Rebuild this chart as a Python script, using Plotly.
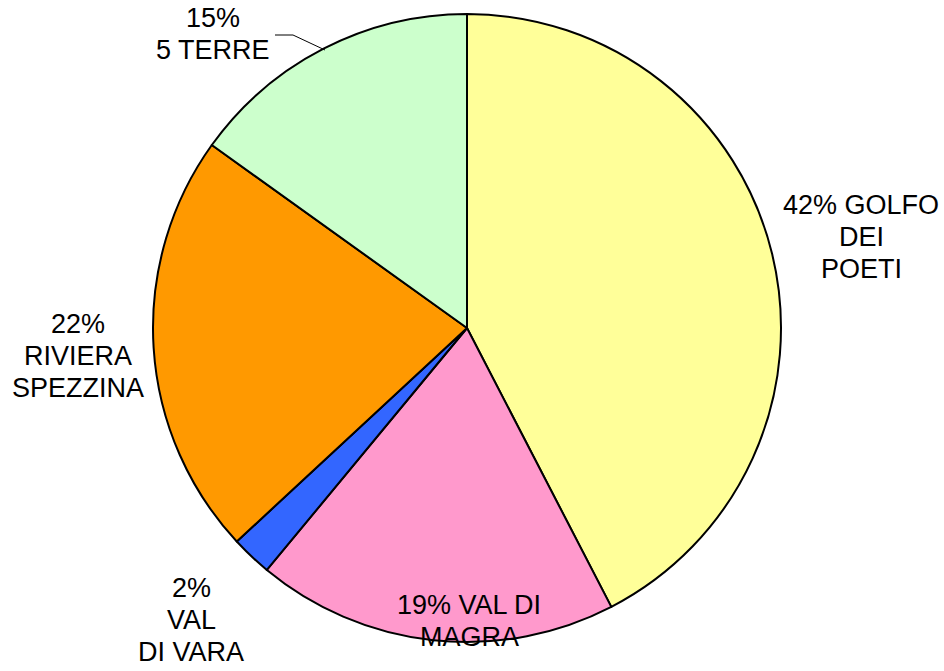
import plotly.graph_objects as go

# ---- data ----
names = ["GOLFO DEI POETI", "VAL DI MAGRA", "VAL DI VARA", "RIVIERA SPEZZINA", "5 TERRE"]
values = [42.4, 18.6, 2.1, 21.8, 15.1]
label_texts = ["42% GOLFO<br>DEI<br>POETI", "19% VAL DI<br>MAGRA", "2%<br>VAL<br>DI VARA",
               "22%<br>RIVIERA<br>SPEZZINA", "15%<br>5 TERRE"]
colors = ["#FFFF99", "#FF99CC", "#3366FF", "#FF9900", "#CCFFCC"]

W, H = 944, 671
# label block centres in pixels (layout, not data)
label_pos = [(861, 237), (469, 621), (191, 620), (78, 356), (213, 34)]
LINE = 32

fig = go.Figure(go.Pie(
    labels=names, values=values, sort=False, direction="clockwise", rotation=0,
    marker=dict(colors=colors, line=dict(color="black", width=2)),
    textinfo="none", showlegend=False, hoverinfo="label+percent",
    domain=dict(x=[(467 - 314) / W, (467 + 314) / W], y=[1 - 642 / H, 1 - 14 / H]),
))

font = dict(family="Liberation Sans, Arial, sans-serif", size=27, color="black")
for txt, (px, py) in zip(label_texts, label_pos):
    lines = txt.split("<br>")
    n = len(lines)
    for i, ln in enumerate(lines):
        ly = py + (i - (n - 1) / 2) * LINE
        fig.add_annotation(x=px / W, y=1 - ly / H, xref="paper", yref="paper",
                           text=ln, showarrow=False, xanchor="center", yanchor="middle",
                           font=font, align="center")

# leader line for 5 TERRE
pts = [(275, 35), (293, 35), (325, 50)]
path = "M " + " L ".join(f"{x / W} {1 - y / H}" for x, y in pts)
fig.add_shape(type="path", path=path, xref="paper", yref="paper",
              line=dict(color="black", width=1))

fig.update_layout(width=W, height=H, margin=dict(l=0, r=0, t=0, b=0),
                  paper_bgcolor="white", plot_bgcolor="white")
fig.write_html("out.html", config={"displayModeBar": False},
               post_script="document.body.style.margin='0';document.body.style.overflow='hidden';")
